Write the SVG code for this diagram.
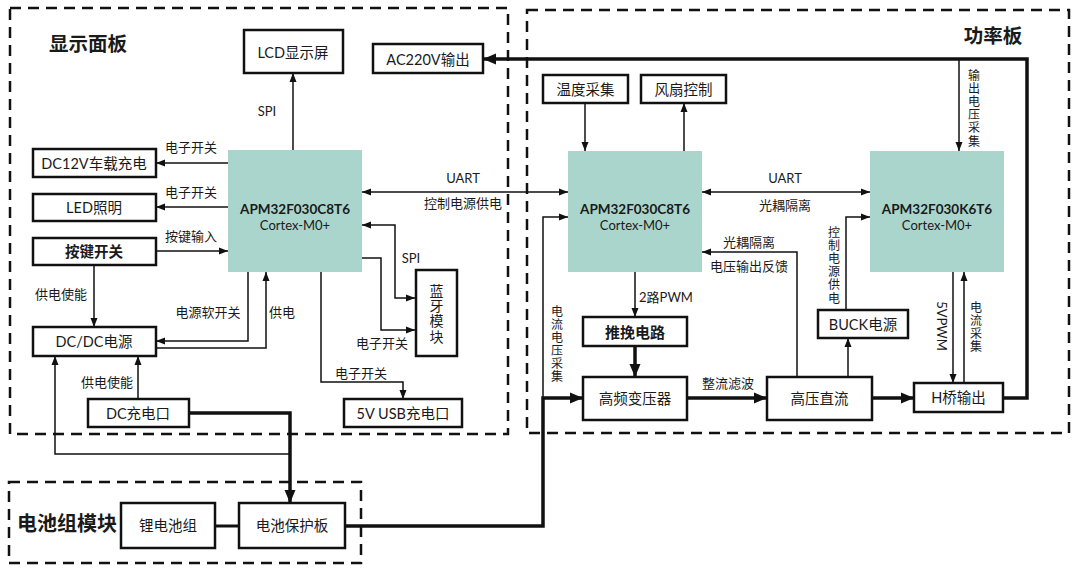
<svg xmlns="http://www.w3.org/2000/svg" width="1080" height="568" viewBox="0 0 1080 568">
<style>
text{font-family:Lato,"Noto Sans CJK SC",sans-serif;fill:#1a1a1a;dominant-baseline:central;text-anchor:middle}
.box{fill:#fff;stroke:#111;stroke-width:2.5}
.mcu{fill:#a9d5cc}
.bt{font-size:14.5px}
.bb{font-size:15px;font-weight:bold}
.lb{font-size:13px}
.vl{font-size:12px}
.mt{font-size:13.5px;font-weight:bold}
.ms{font-size:13px}
.hd{font-size:19.5px;font-weight:bold}
.dash{fill:none;stroke:#111;stroke-width:2.5;stroke-dasharray:11 7}
.c{fill:none;stroke:#111;stroke-width:1.5}
.t{fill:none;stroke:#111;stroke-width:3.5}
</style>
<defs>
<marker id="a" markerUnits="userSpaceOnUse" markerWidth="10" markerHeight="10" viewBox="0 0 10 10" refX="9" refY="5" orient="auto-start-reverse"><path d="M0,1.5 L9,5 L0,8.5 Z" fill="#111"/></marker>
<marker id="A" markerUnits="userSpaceOnUse" markerWidth="14" markerHeight="14" viewBox="0 0 14 14" refX="13" refY="7" orient="auto-start-reverse"><path d="M0,1.5 L13,7 L0,12.5 Z" fill="#111"/></marker>
</defs>
<rect width="1080" height="568" fill="#fff"/>
<g id="regions">
<rect class="dash" x="10" y="8" width="498" height="426"/>
<rect class="dash" x="527" y="10" width="542" height="423"/>
<rect class="dash" x="9" y="482" width="352" height="81"/>
<text class="hd" x="88" y="43">显示面板</text>
<text class="hd" x="993" y="35">功率板</text>
<text class="hd" x="67" y="523" style="font-size:20px">电池组模块</text>
</g>
<g id="connectors">
<path class="c" d="M293,150 V73" marker-end="url(#a)"/>
<path class="c" d="M228,163 H156" marker-end="url(#a)"/>
<path class="c" d="M228,207 H156" marker-end="url(#a)"/>
<path class="c" d="M156,251 H228" marker-end="url(#a)"/>
<path class="c" d="M94,265 V327" marker-end="url(#a)"/>
<path class="c" d="M248,272 V341 H156" marker-end="url(#a)"/>
<path class="c" d="M156,348 H266 V272" marker-end="url(#a)"/>
<path class="c" d="M138,399 V356" marker-end="url(#a)"/>
<path class="c" d="M290,454 H55 V356" marker-end="url(#a)"/>
<path class="c" d="M362,225 H395 V298 H415" marker-start="url(#a)" marker-end="url(#a)"/>
<path class="c" d="M362,258 H381 V330 H415" marker-end="url(#a)"/>
<path class="c" d="M321,272 V382 H403 V399" marker-end="url(#a)"/>
<path class="c" d="M362,192 H568" marker-start="url(#a)" marker-end="url(#a)"/>
<path class="c" d="M585,103 V151" marker-end="url(#a)"/>
<path class="c" d="M684,151 V103" marker-end="url(#a)"/>
<path class="c" d="M702,192 H870" marker-start="url(#a)" marker-end="url(#a)"/>
<path class="c" d="M543,398 V217 H568" marker-end="url(#a)"/>
<path class="c" d="M797,377 V252 H702" marker-end="url(#a)"/>
<path class="c" d="M635,272 V317" marker-end="url(#a)"/>
<path class="c" d="M959,59 V151" marker-end="url(#a)"/>
<path class="c" d="M848,377 V338" marker-end="url(#a)"/>
<path class="c" d="M846,310 V217 H870" marker-end="url(#a)"/>
<path class="c" d="M953,272 V383" marker-end="url(#a)"/>
<path class="c" d="M964,383 V272" marker-end="url(#a)"/>
<path class="t" d="M215,526 H239" style="stroke-width:3"/>
<path class="t" d="M189,413 H290 V503" marker-end="url(#A)"/>
<path class="t" d="M345,526 H543 V398 H583" marker-end="url(#A)"/>
<path class="t" d="M635,346 V377" marker-end="url(#A)"/>
<path class="t" d="M687,398 H767" marker-end="url(#A)"/>
<path class="t" d="M872,398 H914" marker-end="url(#A)"/>
<path class="t" d="M1003,398 H1027 V59 H483" marker-end="url(#A)"/>
</g>
<g id="labels">
<text class="lb" x="267" y="111">SPI</text>
<text class="lb" x="191" y="147">电子开关</text>
<text class="lb" x="191" y="192">电子开关</text>
<text class="lb" x="191" y="236">按键输入</text>
<text class="lb" x="61" y="294">供电使能</text>
<text class="lb" x="208" y="312">电源软开关</text>
<text class="lb" x="282" y="312">供电</text>
<text class="lb" x="107" y="382">供电使能</text>
<text class="lb" x="411" y="258">SPI</text>
<text class="lb" x="382" y="343">电子开关</text>
<text class="lb" x="361" y="373">电子开关</text>
<text class="lb" x="463" y="178">UART</text>
<text class="lb" x="463" y="203">控制电源供电</text>
<text class="lb" x="785" y="178">UART</text>
<text class="lb" x="785" y="205">光耦隔离</text>
<text class="lb" x="749" y="242">光耦隔离</text>
<text class="lb" x="749" y="266">电压输出反馈</text>
<text class="lb" x="666" y="297">2路PWM</text>
<text class="lb" x="728" y="383">整流滤波</text>
<text class="vl"><tspan x="557" y="310.5">电</tspan><tspan x="557" y="323.5">流</tspan><tspan x="557" y="336.5">电</tspan><tspan x="557" y="349.5">压</tspan><tspan x="557" y="362.5">采</tspan><tspan x="557" y="375.5">集</tspan></text>
<text class="vl"><tspan x="834" y="231.6">控</tspan><tspan x="834" y="244.8">制</tspan><tspan x="834" y="258">电</tspan><tspan x="834" y="271.2">源</tspan><tspan x="834" y="284.4">供</tspan><tspan x="834" y="297.6">电</tspan></text>
<text class="vl"><tspan x="974" y="74.6">输</tspan><tspan x="974" y="87.8">出</tspan><tspan x="974" y="101">电</tspan><tspan x="974" y="114.2">压</tspan><tspan x="974" y="127.4">采</tspan><tspan x="974" y="140.6">集</tspan></text>
<text class="vl"><tspan x="976" y="306.5">电</tspan><tspan x="976" y="319.5">流</tspan><tspan x="976" y="332.5">采</tspan><tspan x="976" y="345.5">集</tspan></text>
<text class="lb" transform="translate(942,326) rotate(90)" x="0" y="0">5VPWM</text>
</g>
<g id="lcd"><rect class="box" x="244" y="30" width="99" height="43"/><text class="bt" x="293" y="52">LCD显示屏</text></g>
<g id="ac220"><rect class="box" x="373" y="44" width="110" height="29"/><text class="bt" x="428" y="59">AC220V输出</text></g>
<g id="dc12v"><rect class="box" x="33" y="149" width="123" height="28"/><text class="bt" x="94" y="163">DC12V车载充电</text></g>
<g id="led"><rect class="box" x="33" y="194" width="123" height="27"/><text class="bt" x="94" y="207.5">LED照明</text></g>
<g id="key"><rect class="box" x="33" y="238" width="123" height="27"/><text class="bt" x="94" y="251.5" style="font-weight:bold">按键开关</text></g>
<g id="dcdc"><rect class="box" x="33" y="327" width="123" height="29"/><text class="bt" x="94" y="341.5">DC/DC电源</text></g>
<g id="dcport"><rect class="box" x="88" y="399" width="101" height="28"/><text class="bt" x="138" y="413">DC充电口</text></g>
<g id="mcu1"><rect class="mcu" x="228" y="150" width="134" height="122"/><text class="mt" x="295" y="209">APM32F030C8T6</text><text class="ms" x="295" y="225">Cortex-M0+</text></g>
<g id="bt"><rect class="box" x="416" y="270" width="41" height="86"/><text style="font-size:14px"><tspan x="436.5" y="289.6">蓝</tspan><tspan x="436.5" y="304.9">牙</tspan><tspan x="436.5" y="320.2">模</tspan><tspan x="436.5" y="335.5">块</tspan></text></g>
<g id="usb"><rect class="box" x="344" y="399" width="118" height="28"/><text class="bt" x="403" y="413">5V USB充电口</text></g>
<g id="temp"><rect class="box" x="543" y="75" width="85" height="28"/><text class="bt" x="585.5" y="89">温度采集</text></g>
<g id="fan"><rect class="box" x="641" y="75" width="85" height="28"/><text class="bt" x="683.5" y="89">风扇控制</text></g>
<g id="mcu2"><rect class="mcu" x="568" y="151" width="134" height="121"/><text class="mt" x="635" y="209">APM32F030C8T6</text><text class="ms" x="635" y="225">Cortex-M0+</text></g>
<g id="mcu3"><rect class="mcu" x="870" y="151" width="134" height="121"/><text class="mt" x="937" y="209">APM32F030K6T6</text><text class="ms" x="937" y="225">Cortex-M0+</text></g>
<g id="pushpull"><rect class="box" x="583" y="317" width="104" height="29"/><text class="bb" x="635" y="331.5">推挽电路</text></g>
<g id="hft"><rect class="box" x="583" y="377" width="104" height="43"/><text class="bt" x="635" y="398.5">高频变压器</text></g>
<g id="hvdc"><rect class="box" x="767" y="377" width="105" height="43"/><text class="bt" x="819.5" y="398.5">高压直流</text></g>
<g id="buck"><rect class="box" x="818" y="310" width="90" height="28"/><text class="bt" x="863" y="324">BUCK电源</text></g>
<g id="hbridge"><rect class="box" x="914" y="383" width="89" height="29"/><text class="bt" x="958.5" y="397.5">H桥输出</text></g>
<g id="liion"><rect class="box" x="121" y="503" width="94" height="45"/><text class="bt" x="168" y="525.5">锂电池组</text></g>
<g id="bms"><rect class="box" x="239" y="503" width="106" height="45"/><text class="bt" x="292" y="525.5">电池保护板</text></g>
</svg>
